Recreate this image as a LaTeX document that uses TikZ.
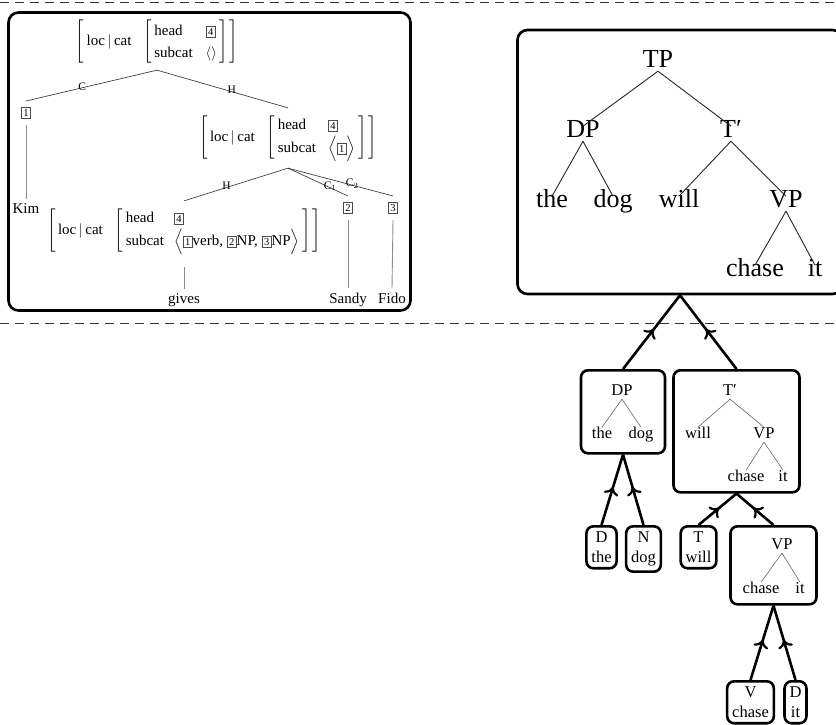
\documentclass[tikz,border=0pt]{standalone}
\usepackage{amsmath}
\usepackage{fontspec}
\setmainfont{Liberation Serif}
\usetikzlibrary{arrows.meta,decorations.markings}
\newcommand{\tagnum}[1]{{\setlength{\fboxsep}{1.8pt}\setlength{\fboxrule}{0.5pt}\fcolorbox{black!70}{white}{\fontsize{10.5}{10.5}\selectfont #1}}}
\newcommand{\loccat}{loc\,$|$\,cat}
\newcommand{\avmfont}{\fontsize{15}{18}\selectfont}
\newcommand{\bigfont}{\fontsize{26}{30}\selectfont}
\newcommand{\midfont}{\fontsize{16.5}{20}\selectfont}
\renewcommand{\arraystretch}{1.22}
\tikzset{
    avm/.style={inner sep=6pt, font=\avmfont},
    word/.style={anchor=base, inner xsep=1pt, inner ysep=4pt, font=\avmfont},
    tagleaf/.style={inner xsep=1pt, inner ysep=6pt, font=\avmfont},
    hd/.style={font=\fontsize{11.5}{12}\selectfont, inner sep=0pt, yshift=1.5pt},
    branch/.style={draw=black!75, line width=0.7pt},
    proj/.style={draw=black!45, line width=0.9pt},
    bigcat/.style={anchor=base, font=\bigfont, text height=0.662em, text depth=0pt, inner xsep=1pt, inner ysep=0.4em},
    midcat/.style={anchor=base, font=\midfont, text height=0.662em, text depth=0pt, inner xsep=1pt, inner ysep=0.4em},
    bigline/.style={draw=black!85, line width=0.9pt},
    midline/.style={draw=black!60, line width=0.6pt},
    treebox/.style={draw, line width=2.6pt, rounded corners=7pt},
    leafbox/.style={treebox, anchor=north, font=\midfont, align=center, inner xsep=5pt, inner ysep=5.5pt},
    divider/.style={draw=black!80, line width=0.9pt, dash pattern=on 9pt off 6pt},
    climb/.style={line width=2.6pt, postaction={decorate},
        decoration={markings, mark=at position 0.54 with {\arrow{Computer Modern Rightarrow[length=8pt,width=15pt,line width=2.2pt]}}}}
}
\begin{document}
\begin{tikzpicture}[x=1pt, y=-1pt]
    \useasboundingbox (0,0) rectangle (836,725);
    \clip (0,0) rectangle (836,725);

    \draw[divider] (0,2) -- (836,2);
    \draw[divider] (0,323) -- (836,323);

    % HPSG analysis
    \node[treebox, rounded corners=10pt, minimum width=402, minimum height=298] (hpsg) at (209.5,161.5) {};
    \node[avm] (root) at (157,42) {$\left[\begin{tabular}{@{\,}l@{\hspace{12pt}}l@{\hspace{2pt}}}\loccat & $\left[\begin{tabular}{@{\,}l@{\hspace{13pt}}l@{\,}}head & \tagnum{4}\\ subcat & $\langle\rangle$\end{tabular}\right]$\end{tabular}\right]$};
    \node[tagleaf] (tag1) at (26,113) {\tagnum{1}};
    \node[avm] (hdtr) at (288,138) {$\left[\begin{tabular}{@{\,}l@{\hspace{12pt}}l@{\hspace{2pt}}}\loccat & $\left[\begin{tabular}{@{\,}l@{\hspace{12pt}}l@{\,}}head & \tagnum{4}\\ subcat & $\Big\langle$\tagnum{1}$\Big\rangle$\end{tabular}\right]$\end{tabular}\right]$};
    \node[word] (kim) at (26,213) {Kim};
    \node[avm] (verb) at (184,231) {$\left[\begin{tabular}{@{\,}l@{\hspace{12pt}}l@{\hspace{2pt}}}\loccat & $\left[\begin{tabular}{@{\,}l@{\hspace{10pt}}l@{\,}}head & \tagnum{4}\\ subcat & $\Big\langle$\tagnum{1}verb, \tagnum{2}NP, \tagnum{3}NP$\Big\rangle$\end{tabular}\right]$\end{tabular}\right]$};
    \node[tagleaf] (tag2) at (348,208) {\tagnum{2}};
    \node[tagleaf] (tag3) at (393,208) {\tagnum{3}};
    \node[word] (gives) at (184,303) {gives};
    \node[word] (sandy) at (348,303) {Sandy};
    \node[word] (fido) at (392,303) {Fido};

    \draw[branch] (root.south) -- node[hd, pos=0.57] {C} (tag1.north);
    \draw[branch] (root.south) -- node[hd, pos=0.57] {H} (hdtr.north);
    \draw[branch] (hdtr.south) -- node[hd, pos=0.59] {H} (verb.north);
    \draw[branch] (hdtr.south) -- node[hd, pos=0.7] {C$_1$} (tag2.north);
    \draw[branch] (hdtr.south) -- node[hd, pos=0.61] {C$_2$} (tag3.north);
    \draw[proj] (tag1.south) -- (kim.north);
    \draw[proj, shorten <=6pt] (verb.south) -- (gives.north);
    \draw[proj] (tag2.south) -- (sandy.north);
    \draw[proj] (tag3.south) -- (fido.north);

    % whole tree
    \node[treebox, rounded corners=10pt, minimum width=325, minimum height=264] (tpbox) at (680,162) {};
    \node[bigcat] (tp) at (658,67) {TP};
    \node[bigcat] (tpdp) at (583,137) {DP};
    \node[bigcat] (tptb) at (731,137) {T′};
    \node[bigcat] (tpthe) at (552,207) {the};
    \node[bigcat] (tpdog) at (613,207) {dog};
    \node[bigcat] (tpwill) at (679,207) {will};
    \node[bigcat] (tpvp) at (786,207) {VP};
    \node[bigcat] (tpchase) at (755,276) {chase};
    \node[bigcat] (tpit) at (815,276) {it};
    \draw[bigline] (tp.south) -- (tpdp.north);
    \draw[bigline] (tp.south) -- (tptb.north);
    \draw[bigline] (tpdp.south) -- (tpthe.north);
    \draw[bigline] (tpdp.south) -- (tpdog.north);
    \draw[bigline] (tptb.south) -- (tpwill.north);
    \draw[bigline] (tptb.south) -- (tpvp.north);
    \draw[bigline] (tpvp.south) -- (tpchase.north);
    \draw[bigline] (tpvp.south) -- (tpit.north);

    % DP part
    \node[treebox, anchor=north, minimum width=84, minimum height=83] (dpbox) at (623,369) {};
    \node[midcat] (dpdp) at (622,395) {DP};
    \node[midcat] (dpthe) at (602,438) {the};
    \node[midcat] (dpdog) at (641,438) {dog};
    \draw[midline] (dpdp.south) -- (dpthe.north);
    \draw[midline] (dpdp.south) -- (dpdog.north);

    % T' part
    \node[treebox, anchor=north, minimum width=126, minimum height=122] (tbbox) at (736.5,369) {};
    \node[midcat] (tbtb) at (730,395) {T′};
    \node[midcat] (tbwill) at (698,438) {will};
    \node[midcat] (tbvp) at (764,438) {VP};
    \node[midcat] (tbchase) at (746,481) {chase};
    \node[midcat] (tbit) at (783,481) {it};
    \draw[midline] (tbtb.south) -- (tbwill.north);
    \draw[midline] (tbtb.south) -- (tbvp.north);
    \draw[midline] (tbvp.south) -- (tbchase.north);
    \draw[midline] (tbvp.south) -- (tbit.north);

    % VP part
    \node[treebox, anchor=north, minimum width=86, minimum height=78] (vpbox) at (773.5,525) {};
    \node[midcat] (vpvp) at (782,549) {VP};
    \node[midcat] (vpchase) at (761,593) {chase};
    \node[midcat] (vpit) at (800,593) {it};
    \draw[midline] (vpvp.south) -- (vpchase.north);
    \draw[midline] (vpvp.south) -- (vpit.north);

    % words
    \node[leafbox] (dthe) at (601.5,525) {D\\the};
    \node[leafbox] (ndog) at (643.5,525) {N\\dog};
    \node[leafbox] (twill) at (698.5,525) {T\\will};
    \node[leafbox] (vchase) at (750.5,680) {V\\chase};
    \node[leafbox] (dit) at (795.5,680) {D\\it};

    \draw[climb] (dpbox.north) -- (tpbox.south);
    \draw[climb] (tbbox.north) -- (tpbox.south);
    \draw[climb] (dthe.north) -- (dpbox.south);
    \draw[climb] (ndog.north) -- (dpbox.south);
    \draw[climb] (twill.north) -- (tbbox.south);
    \draw[climb] (vpbox.north) -- (tbbox.south);
    \draw[climb] (vchase.north) -- (vpbox.south);
    \draw[climb] (dit.north) -- (vpbox.south);
\end{tikzpicture}
\end{document}
